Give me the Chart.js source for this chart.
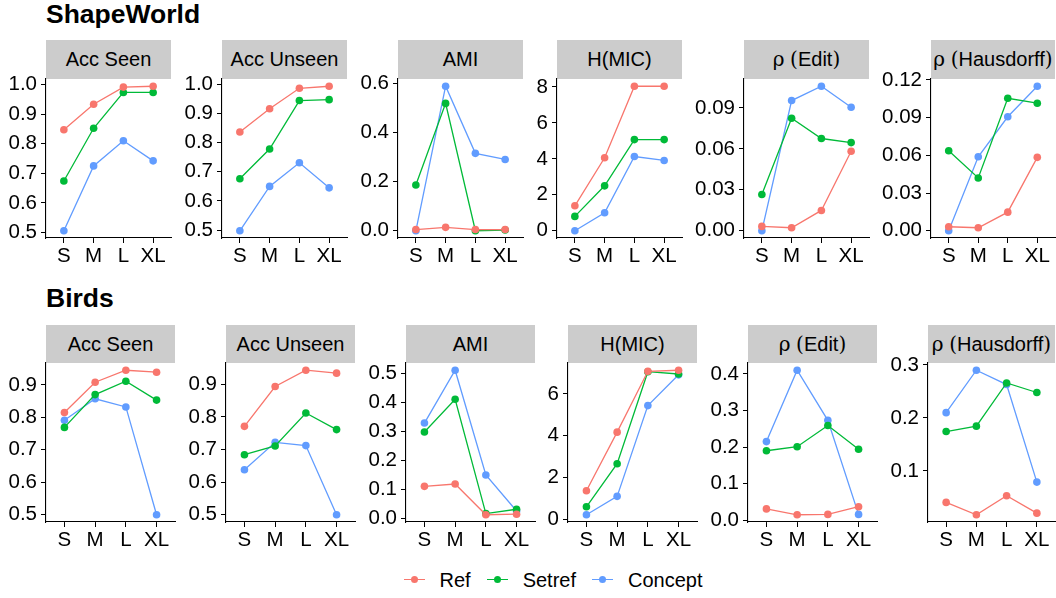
<!DOCTYPE html>
<html>
<head>
<meta charset="utf-8">
<script src="https://cdn.jsdelivr.net/npm/chart.js@4.4.1/dist/chart.umd.min.js"></script>
<style>
body{margin:0;background:#fff;width:1056px;height:598px;position:relative;overflow:hidden;font-family:"Liberation Sans",Arial,Helvetica,sans-serif;color:#000;}
.ttl{position:absolute;font-weight:bold;font-size:26.5px;line-height:28px;}
.strip{position:absolute;background:#cccccc;font-size:20px;text-align:center;white-space:nowrap;}
.strip .sym{font-family:"DejaVu Serif",serif;font-size:20px;}
.pan{position:absolute;}
#legend{position:absolute;left:56px;width:1010px;top:568px;height:24px;display:flex;justify-content:center;align-items:center;font-size:20px;}
.key{position:relative;width:21px;height:24px;margin-right:15px;}
.key .ln{position:absolute;left:0;right:0;top:11px;height:1.3px;}
.key .dt{position:absolute;left:7px;top:8px;width:7px;height:7px;border-radius:50%;}
.lab{margin-right:16px;}
</style>
</head>
<body>
<div class="ttl" style="left:46px;top:0px">ShapeWorld</div>
<div class="ttl" style="left:46px;top:284px">Birds</div>
<div id="legend"></div>
<script>
// categories and series
var sizes = ['S', 'M', 'L', 'XL'];
var seriesNames = ['Ref', 'Setref', 'Concept'];
var seriesColors = ['#F8766D', '#00BA38', '#619CFF'];
var metrics = ['Acc Seen', 'Acc Unseen', 'AMI', 'H(MIC)', 'ρ (Edit)', 'ρ (Hausdorff)'];

// ShapeWorld: one row per metric, values for S, M, L, XL
var swRef = [
  [0.847, 0.933, 0.991, 0.994],
  [0.836, 0.916, 0.986, 0.993],
  [0.005, 0.014, 0.005, 0.005],
  [1.39, 4.06, 8.04, 8.04],
  [0.0032, 0.0022, 0.0149, 0.0583],
  [0.0032, 0.0024, 0.0148, 0.0584]
];
var swSetref = [
  [0.674, 0.852, 0.973, 0.973],
  [0.676, 0.778, 0.944, 0.947],
  [0.187, 0.520, 0.000, 0.003],
  [0.80, 2.50, 5.07, 5.07],
  [0.0266, 0.0824, 0.0676, 0.0646],
  [0.0637, 0.0420, 0.1054, 0.1015]
];
var swConcept = [
  [0.506, 0.725, 0.810, 0.742],
  [0.498, 0.650, 0.731, 0.645],
  [0.000, 0.590, 0.316, 0.291],
  [0.00, 1.00, 4.13, 3.91],
  [0.0000, 0.0954, 0.1059, 0.0905],
  [0.0000, 0.0589, 0.0907, 0.1150]
];

// Birds
var birdsRef = [
  [0.815, 0.908, 0.945, 0.939],
  [0.771, 0.893, 0.943, 0.934],
  [0.110, 0.118, 0.012, 0.014],
  [1.37, 4.17, 7.08, 7.13],
  [0.031, 0.015, 0.016, 0.037],
  [0.0407, 0.0174, 0.0533, 0.0205]
];
var birdsSetref = [
  [0.769, 0.870, 0.911, 0.853],
  [0.684, 0.711, 0.812, 0.761],
  [0.297, 0.410, 0.016, 0.031],
  [0.60, 2.66, 7.06, 6.95],
  [0.190, 0.201, 0.259, 0.194],
  [0.1744, 0.1845, 0.266, 0.248]
];
var birdsConcept = [
  [0.791, 0.857, 0.832, 0.500],
  [0.638, 0.722, 0.712, 0.500],
  [0.328, 0.510, 0.149, 0.025],
  [0.22, 1.10, 5.44, 6.91],
  [0.215, 0.410, 0.273, 0.016],
  [0.210, 0.290, 0.263, 0.079]
];

// y tick labels
var swTicks = [
  [0.5, 0.6, 0.7, 0.8, 0.9, 1.0],
  [0.5, 0.6, 0.7, 0.8, 0.9, 1.0],
  [0, 0.2, 0.4, 0.6],
  [0, 2, 4, 6, 8],
  [0, 0.03, 0.06, 0.09],
  [0, 0.03, 0.06, 0.09, 0.12]
];
var swTickDigits = [1, 1, 1, 0, 2, 2];
var birdsTicks = [
  [0.5, 0.6, 0.7, 0.8, 0.9],
  [0.5, 0.6, 0.7, 0.8, 0.9],
  [0, 0.1, 0.2, 0.3, 0.4, 0.5],
  [0, 2, 4, 6],
  [0, 0.1, 0.2, 0.3, 0.4],
  [0.1, 0.2, 0.3]
];
var birdsTickDigits = [1, 1, 1, 0, 1, 1];

// panel layout (page pixels)
var swPanelX = [[46, 171], [222, 347], [398, 523], [557, 682], [744, 869], [931, 1055]];
var birdsPanelX = [[46, 175], [226, 355], [406, 535], [568, 697], [748, 877], [928, 1055]];
var rowLayout = [
  {stripTop: 40, top: 79, bottom: 238},
  {stripTop: 325, top: 363, bottom: 522}
];

var YW = 60, XH = 34, PT = 14, PR = 6;
var tickFont = {family: '"Liberation Sans", Arial, sans-serif', size: 20.5};

// rho and brackets set in a serif face, like plotmath
var stripHtml = function(name){
    var m = name.match(/^ρ \((.*)\)$/);
    if (!m) return name;
    return '<span class="sym">ρ</span> <span class="sym">(</span>' + m[1] + '<span class="sym">)</span>';
};

var makePanel = function(px, row, name, series, ticks, digits){
    var plotW = px[1] - px[0], plotH = row.bottom - row.top;

    var strip = document.createElement('div');
    strip.className = 'strip';
    strip.style.left = px[0] + 'px';
    strip.style.top = row.stripTop + 'px';
    strip.style.width = plotW + 'px';
    strip.style.height = (row.top - row.stripTop) + 'px';
    strip.style.lineHeight = (row.top - row.stripTop) + 'px';
    strip.innerHTML = stripHtml(name);
    document.body.appendChild(strip);

    var cv = document.createElement('canvas');
    cv.className = 'pan';
    cv.width = YW + plotW + PR;
    cv.height = PT + plotH + XH;
    cv.style.left = (px[0] - YW) + 'px';
    cv.style.top = (row.top - PT) + 'px';
    document.body.appendChild(cv);

    // ggplot style 5% expansion of the data range
    var all = [].concat(series[0], series[1], series[2]);
    var lo = Math.min.apply(null, all), hi = Math.max.apply(null, all);
    var ex = (hi - lo) * 0.05;

    var datasets = seriesNames.map(function(n, k){
        return {
            label: n,
            data: series[k].map(function(v, i){ return {x: i + 1, y: v}; }),
            borderColor: seriesColors[k],
            backgroundColor: seriesColors[k],
            borderWidth: 1.3,
            pointRadius: 3.8,
            pointBorderWidth: 0,
            pointHoverRadius: 3.8,
            tension: 0,
            clip: false
        };
    });

    return new Chart(cv, {
        type: 'line',
        data: {datasets: datasets},
        options: {
            responsive: false,
            animation: false,
            layout: {padding: {top: PT, right: PR, left: 0, bottom: 0}},
            plugins: {legend: {display: false}, tooltip: {enabled: false}},
            scales: {
                x: {
                    type: 'linear', min: 0.4, max: 4.6,
                    afterBuildTicks: function(s){ s.ticks = sizes.map(function(c, i){ return {value: i + 1}; }); },
                    afterFit: function(s){ s.height = XH; s.paddingLeft = 0; s.paddingRight = 0; },
                    ticks: {
                        callback: function(v){ return sizes[v - 1]; },
                        color: '#000', font: tickFont, padding: 1, maxRotation: 0, autoSkip: false
                    },
                    grid: {drawOnChartArea: false, color: '#000', tickLength: 5, tickWidth: 1},
                    border: {color: '#000', width: 1.1}
                },
                y: {
                    type: 'linear', min: lo - ex, max: hi + ex,
                    afterBuildTicks: function(s){ s.ticks = ticks.map(function(t){ return {value: t}; }); },
                    afterFit: function(s){ s.width = YW; s.paddingTop = 0; s.paddingBottom = 0; },
                    ticks: {
                        callback: function(v){ return v.toFixed(digits); },
                        color: '#000', font: tickFont, padding: 4, autoSkip: false
                    },
                    grid: {drawOnChartArea: false, color: '#000', tickLength: 5, tickWidth: 1},
                    border: {color: '#000', width: 1.1}
                }
            }
        }
    });
};

var charts = [];
metrics.forEach(function(m, i){
    charts.push(makePanel(swPanelX[i], rowLayout[0], m, [swRef[i], swSetref[i], swConcept[i]], swTicks[i], swTickDigits[i]));
    charts.push(makePanel(birdsPanelX[i], rowLayout[1], m, [birdsRef[i], birdsSetref[i], birdsConcept[i]], birdsTicks[i], birdsTickDigits[i]));
});

// legend
var leg = document.getElementById('legend');
seriesNames.forEach(function(n, k){
    var key = document.createElement('div');
    key.className = 'key';
    key.innerHTML = '<div class="ln" style="background:' + seriesColors[k] + '"></div><div class="dt" style="background:' + seriesColors[k] + '"></div>';
    var lab = document.createElement('div');
    lab.className = 'lab';
    lab.textContent = n;
    leg.appendChild(key);
    leg.appendChild(lab);
});
</script>
</body>
</html>
